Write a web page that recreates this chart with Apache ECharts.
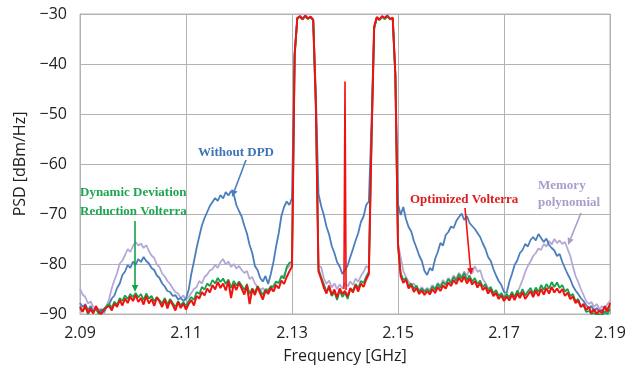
<!DOCTYPE html>
<html>
<head>
<meta charset="utf-8">
<script src="https://cdn.jsdelivr.net/npm/echarts@6/dist/echarts.min.js"></script>
<style>
  html, body { margin: 0; padding: 0; background: #fff; }
  #main { width: 635px; height: 371px; }
</style>
</head>
<body>
<div id="main"></div>
<script>
// frequency grid of the analyser trace (GHz)
const fStart = 2.09;
const fStep = 0.0005;
const xTicks = [2.09, 2.11, 2.13, 2.15, 2.17, 2.19];
const yTicks = [-90, -80, -70, -60, -50, -40, -30];

// PSD traces in dBm/Hz, one value per grid step
const withoutDpd = [
  -87.8, -88.6, -88.0, -89.2, -88.4, -89.5, -88.9, -89.8, -89.0, -89.6, -88.6,
  -88.0, -86.9, -86.3, -84.8, -83.9, -82.2, -81.5, -80.2, -80.8, -79.5,
  -80.2, -79.0, -79.6, -78.6, -79.4, -79.9, -80.8, -81.2, -82.3, -82.8, -83.9, -84.5, -85.4, -85.6, -86.4, -86.2, -87.1, -86.8, -87.4, -86.9,
  -85.2, -82.0, -79.5, -76.8, -74.5, -72.3, -70.8, -69.6, -68.4, -67.6,
  -66.8, -67.4, -66.2, -66.9, -65.6, -66.3, -65.4, -66.0, -68.2, -69.4,
  -70.5, -72.3, -73.9, -76.2, -77.8, -80.4, -81.2, -82.8, -83.5, -82.4, -84.0, -82.0,
  -79.6, -76.5, -73.8, -70.4, -68.6, -67.5, -68.2,
  -66.8, -38.0, -30.8,
  -30.5, -31.0, -30.4, -30.9, -30.6, -31.1,
  -46.0, -66.0,
  -68.4, -70.2, -72.5, -74.1, -76.4, -77.8, -79.6, -80.5, -82.0, -81.2, -80.3, -78.6, -77.0, -75.3, -73.8, -71.6, -70.5, -68.2,
  -67.5, -52.0, -32.8,
  -30.7, -31.2, -30.5, -30.9, -30.4, -31.0, -30.8,
  -42.0, -68.0, -70.2,
  -68.6, -71.0, -72.6, -73.5, -75.4, -76.8, -78.3, -79.4, -81.4,
  -82.2, -80.8, -81.3, -79.0, -77.6, -75.8, -76.3, -74.2, -73.6, -72.5,
  -72.8, -71.4, -70.6, -69.9, -71.2, -70.4, -71.8, -72.4, -73.0, -73.8,
  -74.6, -75.9, -77.0, -78.6, -79.4, -81.0, -82.3, -83.4, -84.2, -85.6,
  -85.8, -83.6, -82.0, -80.2, -79.3, -77.8, -77.2, -76.0, -76.5, -75.2,
  -74.6, -75.3, -74.0, -74.8, -75.6, -74.9, -76.2, -76.8, -77.3, -78.4,
  -78.0, -79.6, -80.8, -82.0, -83.0, -84.4, -85.3, -86.0, -86.8, -87.4,
  -88.2, -88.9, -88.4, -89.5, -88.8, -89.6, -89.1, -89.8, -88.9, -88.5
];

const memoryPoly = [
  -85.0, -86.1, -86.6, -87.9, -87.5, -88.6, -89.3, -88.9, -89.8, -90.0, -88.4,
  -87.0, -84.8, -83.2, -81.8, -79.9, -79.3, -78.2, -77.0, -77.6, -76.4,
  -75.6, -76.3, -75.9, -76.8, -76.2, -77.4, -78.3, -78.8, -80.1, -80.6, -81.9, -82.5, -83.4, -84.0, -84.9, -85.6, -85.9, -86.8, -86.3, -87.2,
  -86.6, -85.8, -85.0, -84.6, -83.4, -83.9, -82.6, -82.1, -81.3, -81.0,
  -80.2, -80.8, -79.6, -79.0, -80.1, -79.5, -80.6, -80.0, -80.9, -80.4,
  -81.2, -81.8, -81.4, -83.0, -82.6, -83.9, -84.6, -85.2, -84.8, -85.6, -84.9, -85.4,
  -84.2, -83.6, -83.9, -82.6, -82.2, -81.0, -80.4,
  -79.8, -38.2, -30.8,
  -30.5, -31.0, -30.4, -30.9, -30.6, -31.2,
  -48.2, -80.5,
  -80.6, -82.8, -84.0, -83.3, -84.7, -83.9, -85.0, -84.1, -84.9, -83.8, -84.5, -83.5, -84.2, -82.9, -83.6, -82.4, -81.6, -80.4,
  -80.8, -55.2, -32.7,
  -30.7, -31.1, -30.5, -30.9, -30.4, -31.0, -30.8,
  -42.2, -76.0, -78.6,
  -81.4, -82.6, -83.5, -84.2, -83.9, -84.8, -85.2, -84.6, -85.3,
  -84.8, -85.2, -84.2, -84.9, -83.8, -84.3, -83.2, -83.9, -82.8, -83.4,
  -82.3, -82.9, -81.8, -82.6, -81.5, -82.4, -81.0, -81.9, -80.4, -81.6,
  -81.2, -83.0, -83.8, -84.9, -84.6, -85.8, -85.4, -86.5, -86.0, -87.0,
  -86.6, -87.0, -86.2, -86.8, -85.8, -84.5, -83.2, -81.6, -80.4, -79.5,
  -78.4, -77.8, -76.9, -77.2, -76.0, -76.5, -75.4, -76.1, -75.0, -75.8,
  -75.3, -76.0, -75.6, -77.0, -78.4, -80.5, -82.4, -83.6, -85.0, -86.2,
  -87.4, -88.0, -87.6, -88.6, -88.0, -89.0, -88.4, -89.2, -88.0, -87.4
];

const ddrVolterra = [
  -88.9, -89.4, -88.6, -90.0, -89.2, -89.7, -88.8, -90.0, -89.5, -89.0, -88.4,
  -88.0, -88.7, -87.5, -88.2, -86.8, -87.4, -86.3, -87.0, -86.0, -86.6,
  -85.8, -86.7, -86.0, -87.2, -85.9, -86.9, -86.4, -87.5, -86.6, -87.2, -87.9, -86.8, -88.1, -87.0, -87.8, -88.6, -87.4, -88.3, -87.6, -88.5,
  -87.4, -86.6, -87.2, -85.6, -86.0, -84.6, -85.1, -83.9, -84.4, -83.2,
  -83.9, -82.8, -83.6, -82.9, -84.0, -83.1, -84.8, -83.4, -84.3, -83.5,
  -84.3, -85.2, -84.0, -86.0, -84.9, -85.7, -84.4, -85.3, -86.2, -85.0, -85.5, -84.4,
  -84.6, -83.5, -83.8, -82.4, -82.9, -80.6, -79.8,
  -79.5, -38.5, -30.9,
  -30.6, -31.1, -30.5, -31.0, -30.7, -31.3,
  -48.5, -81.0,
  -82.6, -84.0, -85.5, -84.8, -86.4, -85.6, -87.2, -85.3, -86.6, -85.8, -87.0, -85.0, -85.3, -84.0, -84.8, -83.4, -83.8, -82.5,
  -81.6, -55.5, -33.0,
  -30.8, -31.2, -30.6, -31.0, -30.5, -31.1, -30.9,
  -42.5, -76.5, -81.8,
  -83.2, -82.8, -84.4, -83.9, -85.0, -84.3, -85.5, -84.9, -85.6,
  -85.0, -85.6, -84.5, -85.1, -84.0, -84.7, -83.6, -84.2, -83.0, -83.8,
  -82.6, -83.3, -82.0, -82.9, -81.8, -83.2, -82.3, -83.5, -82.8, -84.0,
  -83.3, -84.6, -84.0, -85.3, -84.6, -85.9, -85.2, -86.4, -85.8, -86.8,
  -86.0, -86.7, -85.6, -86.6, -85.3, -86.2, -85.0, -86.3, -85.5, -84.8,
  -85.9, -84.7, -85.6, -84.2, -85.2, -84.0, -84.9, -83.6, -84.6, -83.7,
  -84.8, -84.2, -85.5, -85.0, -86.4, -86.0, -87.4, -87.0, -88.5, -88.3,
  -89.6, -89.4, -90.0, -89.8, -90.2, -90.0, -90.3, -89.6, -90.0, -89.0
];

const optVolterra = [
  -88.5, -89.6, -88.2, -89.8, -88.9, -89.9, -88.4, -89.5, -90.0, -89.1, -88.7,
  -88.4, -89.3, -87.9, -88.6, -87.2, -88.3, -86.9, -87.8, -86.5, -87.4,
  -86.2, -87.6, -86.8, -88.1, -86.4, -87.9, -87.0, -88.4, -86.7, -87.5, -88.6, -87.1, -88.9, -87.3, -88.2, -89.3, -87.6, -88.8, -87.9, -89.1,
  -88.0, -87.2, -88.3, -86.4, -86.9, -85.6, -86.3, -84.9, -85.7, -84.2,
  -85.1, -83.6, -84.8, -83.9, -85.3, -83.4, -86.8, -84.0, -85.2, -83.8,
  -84.9, -86.1, -84.3, -88.0, -85.0, -86.2, -84.6, -85.9, -87.1, -85.3, -86.0, -84.7,
  -85.5, -84.2, -84.9, -83.3, -84.0, -82.6, -81.5,
  -80.5, -38.0, -30.8,
  -30.4, -31.0, -30.3, -30.9, -30.5, -31.2,
  -48.0, -81.5,
  -83.0, -84.7, -85.9, -84.3, -86.2, -85.1, -86.7, -84.9, -86.0, -85.4, -86.5, -84.8, -85.7, -84.2, -85.5, -83.9, -84.6, -83.1,
  -82.0, -55.0, -32.5,
  -30.6, -31.1, -30.4, -30.8, -30.3, -31.0, -30.7,
  -42.0, -76.0, -82.4,
  -83.8, -83.1, -84.9, -84.2, -85.6, -84.8, -86.0, -85.3, -86.2,
  -85.4, -86.1, -85.0, -85.8, -84.6, -85.4, -84.3, -84.9, -83.7, -84.4,
  -83.2, -84.0, -82.7, -83.6, -82.5, -83.9, -82.9, -84.1, -83.4, -84.7,
  -83.8, -85.2, -84.6, -85.9, -85.1, -86.4, -85.8, -87.0, -86.3, -87.4,
  -86.5, -87.3, -86.1, -87.2, -85.9, -86.8, -85.6, -87.0, -86.2, -85.4,
  -86.6, -85.3, -86.4, -85.0, -86.1, -84.8, -85.9, -84.6, -85.7, -84.9,
  -85.8, -85.0, -86.4, -85.7, -87.0, -86.5, -87.8, -87.3, -88.6, -88.0,
  -89.2, -88.6, -89.8, -89.0, -90.0, -89.2, -89.9, -88.4, -89.5, -87.8
];

// residual carrier leakage spike on the optimized trace
const spikeFreq = [2.1398, 2.1400, 2.1402];
const spikePsd = [-85.0, -43.5, -85.2];

function pairs(vals) {
  return vals.map((v, i) => [+(fStart + i * fStep).toFixed(4), v]);
}

const gridColor = '#b3b3b3';
const fontSans = '"Open Sans", "Noto Sans", sans-serif';
const fontSerif = '"Liberation Serif", "DejaVu Serif", serif';

function arrow(x1, y1, x2, y2, color) {
  const a = Math.atan2(y2 - y1, x2 - x1);
  const L = 7, W = 3.2;
  const bx = x2 - L * Math.cos(a), by = y2 - L * Math.sin(a);
  return [
    { type: 'line', shape: { x1: x1, y1: y1, x2: bx, y2: by }, style: { stroke: color, lineWidth: 1.6 }, z: 100 },
    { type: 'polygon', shape: { points: [
        [x2, y2],
        [bx + W * Math.sin(a), by - W * Math.cos(a)],
        [bx - W * Math.sin(a), by + W * Math.cos(a)]
      ] }, style: { fill: color }, z: 100 }
  ];
}

function label(x, y, text, color, align) {
  return { type: 'text', x: x, y: y, z: 100,
    style: { text: text, fill: color, font: 'bold 13px ' + fontSerif, textAlign: align || 'left', textVerticalAlign: 'middle' } };
}

const myChart = echarts.init(document.getElementById('main'));
myChart.setOption({
  animation: false,
  backgroundColor: '#fff',
  grid: { left: 80, right: 25, top: 14, bottom: 57, show: true, borderColor: gridColor, borderWidth: 1 },
  xAxis: {
    type: 'value',
    min: xTicks[0], max: xTicks[xTicks.length - 1], interval: 0.02,
    name: 'Frequency [GHz]', nameLocation: 'middle', nameGap: 34,
    nameTextStyle: { fontFamily: fontSans, fontSize: 16, color: '#222' },
    axisLine: { lineStyle: { color: gridColor } },
    axisTick: { show: false },
    axisLabel: { margin: 11, fontFamily: fontSans, fontSize: 16, color: '#222', formatter: v => v.toFixed(2) },
    splitLine: { lineStyle: { color: gridColor, width: 1 } }
  },
  yAxis: {
    type: 'value',
    min: yTicks[0], max: yTicks[yTicks.length - 1], interval: 10,
    name: 'PSD [dBm/Hz]', nameLocation: 'middle', nameGap: 44, nameRotate: 90,
    nameTextStyle: { fontFamily: fontSans, fontSize: 16, color: '#222' },
    axisLine: { show: true, lineStyle: { color: gridColor } },
    axisTick: { show: false },
    axisLabel: { margin: 13, fontFamily: fontSans, fontSize: 16, color: '#222', formatter: v => String(v).replace('-', '\u2212') },
    splitLine: { lineStyle: { color: gridColor, width: 1 } }
  },
  series: [
    { name: 'Memory polynomial', type: 'line', showSymbol: false, data: pairs(memoryPoly),
      lineStyle: { color: '#b6a8d6', width: 1.8 } },
    { name: 'Without DPD', type: 'line', showSymbol: false, data: pairs(withoutDpd),
      lineStyle: { color: '#4a7ebd', width: 1.8 } },
    { name: 'Dynamic Deviation Reduction Volterra', type: 'line', showSymbol: false, data: pairs(ddrVolterra),
      lineStyle: { color: '#13a24a', width: 1.8 } },
    { name: 'Optimized Volterra', type: 'line', showSymbol: false, data: pairs(optVolterra),
      lineStyle: { color: '#f21010', width: 2 } },
    { name: 'Optimized Volterra', type: 'line', showSymbol: false,
      data: spikeFreq.map((f, i) => [f, spikePsd[i]]),
      lineStyle: { color: '#f21010', width: 1.6 } }
  ],
  graphic: [
    label(236, 153, 'Without DPD', '#3f73b5', 'center'),
    ...arrow(246, 160, 232, 197, '#4a7ebd'),
    label(80, 193, 'Dynamic Deviation', '#1ea552'),
    label(80, 212, 'Reduction Volterra', '#1ea552'),
    ...arrow(135, 221, 135, 292, '#13a24a'),
    label(410, 200, 'Optimized Volterra', '#e01c1c'),
    ...arrow(465, 208, 471, 275, '#f21010'),
    label(538, 186, 'Memory', '#ab9ccb'),
    label(538, 203, 'polynomial', '#ab9ccb'),
    ...arrow(581, 213, 568, 245, '#ab9ccb')
  ]
});
</script>
</body>
</html>
